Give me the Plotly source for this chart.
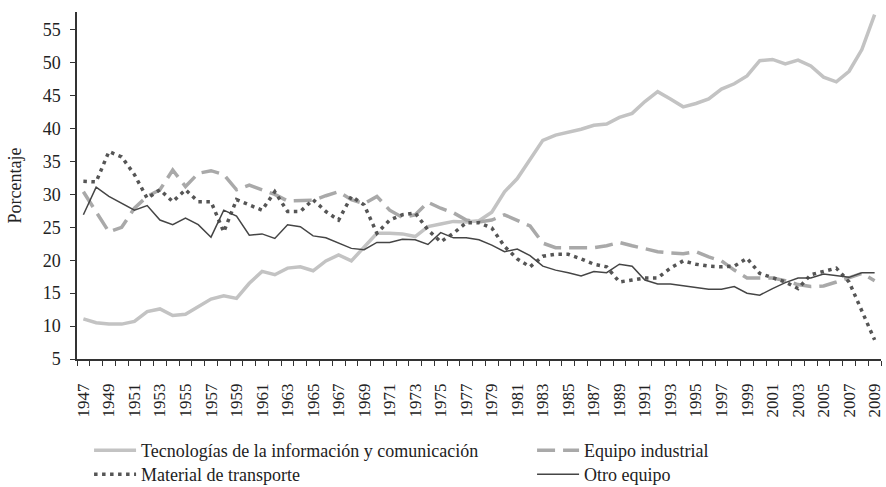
import plotly.graph_objects as go

years = list(range(1947, 2010))

tic = [11.1, 10.5, 10.3, 10.3, 10.7, 12.2, 12.6, 11.6, 11.8, 12.9,
       14.1, 14.6, 14.2, 16.5, 18.3, 17.8, 18.8, 19.0, 18.4, 19.9,
       20.8, 19.9, 22.1, 24.1, 24.1, 24.0, 23.6, 25.1, 25.5, 25.9,
       25.8, 26.0, 27.3, 30.4, 32.4, 35.3, 38.2, 39.0, 39.4, 39.9,
       40.5, 40.7, 41.7, 42.3, 44.1, 45.6, 44.5, 43.3, 43.8, 44.5,
       46.0, 46.8, 48.0, 50.3, 50.5, 49.8, 50.4, 49.5, 47.8, 47.1,
       48.7, 52.0, 57.3]

equipo_ind = [30.4, 27.4, 24.3, 25.0, 27.9, 29.7, 30.7, 33.7, 31.2, 33.2,
              33.6, 33.0, 30.7, 31.4, 30.7, 30.0, 29.0, 29.1, 29.1, 29.8,
              30.4, 29.2, 28.6, 29.7, 27.6, 26.5, 26.9, 28.8, 27.9, 27.2,
              26.1, 25.8, 26.1, 26.9, 26.0, 25.2, 22.6, 21.9, 21.9, 21.9,
              21.9, 22.2, 22.7, 22.2, 21.7, 21.3, 21.1, 21.0, 21.3, 20.5,
              19.9, 18.5, 17.3, 17.3, 17.3, 16.9, 16.3, 16.0, 16.1, 16.7,
              17.4, 18.0, 16.9]

material = [32.0, 31.9, 36.5, 35.7, 33.0, 29.4, 30.7, 28.9, 30.7, 28.9,
            28.9, 24.3, 29.2, 28.4, 27.6, 30.4, 27.4, 27.4, 29.2, 27.4,
            26.1, 29.7, 28.4, 24.1, 26.1, 26.9, 27.2, 24.6, 22.8, 24.1,
            25.7, 25.7, 24.9, 22.1, 20.2, 19.0, 20.6, 20.9, 20.9, 20.2,
            19.4, 19.0, 16.7, 17.0, 17.3, 17.3, 18.8, 19.9, 19.4, 19.1,
            19.0, 19.1, 20.3, 18.0, 17.3, 16.7, 15.7, 17.8, 18.3, 18.8,
            16.7, 12.4, 7.9]

otro = [26.9, 31.1, 29.7, 28.6, 27.6, 28.3, 26.1, 25.4, 26.4, 25.4,
        23.5, 27.6, 26.7, 23.8, 24.0, 23.3, 25.4, 25.1, 23.7, 23.4,
        22.6, 21.8, 21.6, 22.7, 22.7, 23.2, 23.1, 22.4, 24.2, 23.4,
        23.4, 23.1, 22.3, 21.3, 21.7, 20.7, 19.1, 18.5, 18.1, 17.6,
        18.3, 18.1, 19.4, 19.1, 17.0, 16.4, 16.4, 16.1, 15.9, 15.6,
        15.6, 16.0, 15.0, 14.7, 15.7, 16.6, 17.3, 17.3, 17.9, 17.6,
        17.4, 18.1, 18.1]

names = ["Tecnologías de la información y comunicación", "Equipo industrial",
         "Material de transporte", "Otro equipo"]

y_ticks = list(range(5, 60, 5))
x_label_years = list(range(1947, 2010, 2))

FONT = "Liberation Serif"
TXT = "#222222"

fig = go.Figure()
fig.add_trace(go.Scatter(x=years, y=tic, name=names[0], mode="lines", legend="legend",
                         line=dict(color="#c3c3c3", width=3.5)))
fig.add_trace(go.Scatter(x=years, y=equipo_ind, name=names[1], mode="lines", legend="legend2",
                         line=dict(color="#a9a9a9", width=3.5, dash="18px,8px")))
fig.add_trace(go.Scatter(x=years, y=material, name=names[2], mode="lines", legend="legend3",
                         line=dict(color="#555555", width=3.5, dash="3.5px,4.5px")))
fig.add_trace(go.Scatter(x=years, y=otro, name=names[3], mode="lines", legend="legend4",
                         line=dict(color="#454545", width=1.5)))

leg_common = dict(orientation="v", yanchor="top", xanchor="left",
                  font=dict(family=FONT, size=18, color=TXT),
                  itemwidth=42, tracegroupgap=0, bgcolor="rgba(0,0,0,0)")

col1_x, col2_x = 0.015, 0.566
row1_y, row2_y = -0.2104, -0.2795

fig.update_layout(
    width=886, height=487,
    margin=dict(l=77, r=5, t=12, b=128, autoexpand=False),
    plot_bgcolor="white", paper_bgcolor="white",
    font=dict(family=FONT, size=18, color=TXT),
    showlegend=True,
    legend=dict(x=col1_x, y=row1_y, **leg_common),
    legend2=dict(x=col2_x, y=row1_y, **leg_common),
    legend3=dict(x=col1_x, y=row2_y, **leg_common),
    legend4=dict(x=col2_x, y=row2_y, **leg_common),
)

fig.update_xaxes(
    range=[1946.5, 2009.5],
    tickmode="array", tickvals=x_label_years,
    ticktext=[str(v) for v in x_label_years],
    tickangle=-90, ticks="", ticklabelstandoff=16, ticklabeloverflow="allow",
    showgrid=False, zeroline=False,
    showline=True, linecolor="#333333", linewidth=1.5,
    tickfont=dict(family=FONT, size=17, color=TXT),
    minor=dict(tickmode="array", tickvals=[1946.5 + k for k in range(64)],
               ticks="outside", ticklen=5, tickcolor="#333333", showgrid=False),
)
fig.update_yaxes(
    range=[5, 57.7],
    tickmode="array", tickvals=y_ticks,
    ticks="outside", ticklen=5, tickcolor="#333333", ticklabelstandoff=6,
    showgrid=False, zeroline=False,
    showline=True, linecolor="#333333", linewidth=1.5,
    tickfont=dict(family=FONT, size=18, color=TXT),
    title=dict(text="Porcentaje", font=dict(family=FONT, size=18, color=TXT), standoff=16),
)

fig.write_html("out.html", config={"displayModeBar": False},
               post_script="document.body.style.margin='0';")
